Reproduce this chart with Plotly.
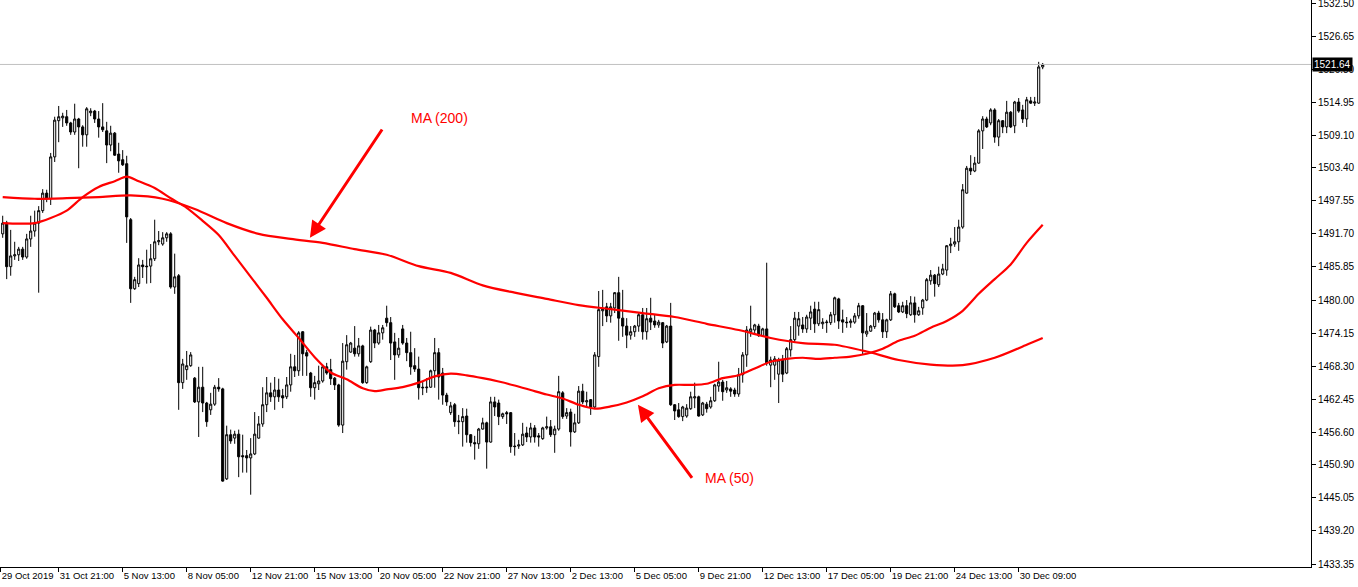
import plotly.graph_objects as go

# ---------------- data (XAUUSD H4) ----------------
opens = [1491.7,1493.6,1485.9,1487.8,1488.0,1489.0,1487.6,1490.8,1492.2,1493.6,
 1495.8,1498.9,1497.9,1505.3,1511.7,1512.2,1512.4,1511.3,1509.7,1512.0,
 1510.6,1509.2,1513.1,1513.4,1512.0,1510.6,1509.9,1507.4,1509.5,1505.8,
 1504.8,1504.1,1494.2,1482.0,1482.9,1486.2,1486.0,1486.0,1487.3,1490.3,
 1489.9,1491.0,1491.7,1482.3,1484.3,1465.4,1467.7,1468.4,1466.2,1462.0,
 1464.6,1461.8,1460.6,1461.6,1464.6,1464.3,1448.4,1456.2,1455.6,1456.3,
 1452.5,1452.5,1452.1,1452.8,1455.6,1458.1,1461.5,1463.6,1462.9,1464.1,
 1463.1,1462.9,1465.0,1468.2,1467.5,1474.4,1470.7,1467.1,1464.5,1465.2,
 1465.7,1468.2,1467.7,1466.2,1465.0,1457.9,1469.1,1470.8,1471.5,1470.5,
 1471.9,1465.4,1469.1,1474.7,1472.4,1474.2,1476.8,1476.0,1472.6,1470.3,
 1474.9,1472.4,1470.7,1468.4,1467.8,1464.6,1464.5,1464.6,1467.5,1470.7,
 1467.1,1463.2,1460.1,1461.5,1458.5,1458.5,1459.5,1456.2,1454.8,1454.6,
 1457.2,1458.3,1454.9,1462.0,1461.8,1459.4,1460.1,1460.1,1454.2,1454.2,
 1454.4,1456.5,1455.8,1457.4,1456.0,1455.5,1457.4,1457.6,1456.2,1457.2,
 1463.6,1459.5,1460.2,1456.7,1458.3,1463.9,1462.0,1462.4,1461.1,1470.0,
 1478.1,1478.8,1477.2,1478.6,1481.3,1476.8,1475.4,1473.8,1474.4,1475.4,
 1477.4,1474.4,1476.8,1476.3,1475.6,1476.0,1472.6,1475.4,1461.5,1460.6,
 1459.4,1459.5,1460.8,1462.7,1462.9,1459.7,1461.6,1461.1,1462.2,1464.8,
 1465.5,1464.1,1464.3,1464.1,1463.4,1466.8,1470.3,1474.4,1474.7,1475.4,
 1473.7,1474.9,1468.5,1468.5,1466.9,1469.4,1467.1,1471.2,1473.0,1475.4,
 1475.6,1474.9,1476.8,1478.4,1475.8,1475.8,1476.0,1476.0,1477.4,1480.2,
 1476.5,1476.1,1476.0,1476.1,1477.2,1479.0,1474.0,1474.5,1475.3,1477.7,
 1476.5,1474.4,1476.5,1481.1,1479.0,1477.9,1479.0,1477.4,1479.5,1477.4,
 1478.6,1480.0,1483.4,1484.4,1482.7,1484.6,1485.3,1489.6,1489.9,1490.3,
 1492.9,1498.9,1503.3,1502.8,1504.2,1509.9,1512.0,1511.3,1513.6,1508.8,
 1511.7,1510.6,1513.2,1510.8,1515.0,1513.6,1512.0,1515.2,1514.8,1514.8,
 1521.2]

highs = [1494.9,1494.0,1492.4,1490.3,1489.4,1489.4,1491.7,1494.9,1495.8,1496.6,
 1499.6,1499.5,1506.0,1512.4,1514.3,1513.1,1513.6,1511.5,1514.7,1512.2,
 1510.9,1514.1,1513.9,1513.6,1513.4,1514.8,1511.5,1510.8,1509.7,1507.8,
 1506.5,1505.5,1494.5,1484.1,1487.4,1487.1,1488.9,1489.9,1494.2,1492.2,
 1492.0,1492.0,1492.0,1488.2,1484.6,1469.6,1471.0,1470.8,1466.4,1468.2,
 1468.2,1462.0,1463.6,1465.0,1466.2,1464.5,1457.8,1457.1,1456.9,1457.1,
 1456.2,1453.5,1455.6,1460.2,1459.5,1464.6,1466.4,1465.4,1466.4,1466.1,
 1464.3,1466.4,1470.5,1470.3,1474.5,1474.5,1471.2,1467.3,1466.6,1468.4,
 1468.5,1468.9,1469.6,1466.4,1465.2,1472.4,1473.8,1472.6,1475.4,1473.3,
 1472.1,1468.4,1475.3,1474.9,1475.6,1475.6,1479.0,1477.0,1474.2,1473.3,
 1475.6,1473.3,1474.4,1471.5,1470.0,1465.5,1466.2,1467.7,1473.3,1471.5,
 1468.0,1463.6,1462.0,1461.8,1459.7,1460.9,1460.8,1456.3,1456.0,1457.4,
 1459.2,1458.5,1462.9,1462.9,1462.4,1460.1,1460.4,1460.2,1456.5,1455.3,
 1458.3,1457.6,1458.3,1457.9,1456.5,1457.6,1459.4,1458.8,1457.8,1466.6,
 1463.9,1460.9,1460.8,1459.9,1464.8,1465.2,1463.8,1462.5,1470.8,1481.6,
 1481.8,1479.5,1479.5,1481.4,1484.1,1481.8,1476.8,1475.4,1475.6,1477.7,
 1478.6,1478.6,1480.4,1477.4,1476.5,1476.1,1475.6,1479.5,1461.6,1461.8,
 1461.3,1461.6,1463.8,1465.4,1463.1,1462.0,1462.0,1462.9,1465.2,1469.1,
 1465.9,1465.7,1464.6,1464.5,1468.0,1470.8,1475.4,1479.0,1475.8,1475.8,
 1475.1,1486.6,1470.0,1470.1,1469.8,1470.3,1471.7,1475.4,1477.9,1477.9,
 1477.0,1477.4,1479.0,1479.7,1479.7,1476.8,1476.5,1477.9,1480.6,1480.4,
 1478.3,1477.0,1476.7,1477.7,1479.5,1479.1,1477.7,1475.6,1477.9,1478.1,
 1477.7,1476.7,1481.6,1481.3,1479.5,1479.7,1480.0,1480.7,1480.6,1478.8,
 1480.2,1483.9,1485.3,1484.6,1485.9,1486.4,1489.7,1491.0,1492.9,1494.2,
 1500.5,1503.7,1505.6,1505.3,1510.2,1512.5,1512.4,1513.9,1513.9,1512.0,
 1511.8,1515.2,1513.4,1515.2,1515.7,1514.5,1515.9,1515.9,1515.9,1522.1,
 1521.9]

lows = [1491.0,1483.7,1484.3,1487.1,1486.9,1487.1,1487.3,1489.4,1491.2,1481.3,
 1495.4,1497.3,1496.8,1504.4,1507.9,1510.6,1510.8,1509.2,1509.2,1503.3,
 1507.1,1507.1,1512.5,1511.3,1508.7,1509.7,1504.2,1506.3,1505.5,1502.5,
 1503.7,1490.1,1479.5,1481.8,1482.3,1483.9,1482.9,1483.0,1486.9,1489.7,
 1489.6,1490.3,1482.0,1481.1,1460.6,1464.3,1465.9,1468.2,1461.8,1455.8,
 1460.2,1457.6,1459.7,1461.3,1463.8,1447.9,1448.2,1454.6,1454.6,1448.7,
 1449.5,1449.5,1445.6,1452.6,1455.5,1457.6,1460.2,1462.0,1460.6,1462.0,
 1460.9,1462.5,1463.8,1466.4,1466.6,1466.6,1466.6,1462.9,1462.4,1464.1,
 1465.4,1466.8,1465.0,1464.1,1457.6,1456.5,1467.7,1470.7,1470.0,1470.0,
 1465.2,1465.2,1468.9,1471.5,1472.1,1473.0,1475.3,1469.4,1465.9,1469.8,
 1472.1,1469.2,1466.8,1467.3,1462.4,1463.2,1463.6,1464.5,1464.5,1462.4,
 1461.5,1461.3,1459.7,1457.6,1456.3,1454.1,1454.8,1454.1,1451.8,1453.7,
 1457.1,1450.2,1454.8,1459.5,1457.9,1459.0,1458.1,1453.0,1452.5,1453.7,
 1454.2,1454.9,1454.8,1454.8,1454.1,1455.3,1457.1,1455.8,1453.0,1456.9,
 1459.0,1459.0,1454.1,1456.5,1458.1,1461.6,1461.1,1459.7,1460.9,1468.2,
 1475.4,1476.1,1476.0,1477.7,1472.8,1473.5,1471.5,1473.0,1473.5,1474.4,
 1473.0,1473.0,1474.7,1475.1,1475.1,1471.5,1472.4,1461.3,1458.8,1459.2,
 1458.6,1459.2,1460.6,1460.9,1459.4,1459.5,1460.1,1460.8,1462.0,1463.8,
 1462.2,1463.6,1462.9,1462.9,1462.9,1465.4,1468.2,1473.5,1474.0,1473.5,
 1473.5,1468.4,1464.6,1465.9,1461.8,1465.5,1466.9,1470.0,1472.4,1473.7,
 1474.2,1474.2,1474.7,1474.2,1475.4,1474.9,1474.2,1475.6,1476.0,1474.9,
 1474.2,1475.1,1475.1,1475.8,1476.7,1470.3,1473.5,1474.4,1474.9,1476.0,
 1473.3,1473.3,1476.3,1478.6,1477.7,1477.7,1476.8,1477.2,1476.0,1477.2,
 1477.4,1479.8,1482.7,1480.6,1482.3,1484.4,1484.3,1488.3,1489.4,1488.7,
 1492.6,1498.8,1502.1,1502.6,1504.1,1506.7,1510.4,1510.9,1507.8,1507.2,
 1509.5,1509.5,1510.4,1509.5,1513.1,1511.3,1510.6,1514.7,1514.3,1514.7,
 1520.8]

closes = [1493.6,1485.9,1487.8,1488.0,1489.0,1487.6,1490.8,1492.2,1493.6,1495.8,
 1498.9,1497.9,1505.3,1511.8,1512.4,1512.5,1511.3,1509.7,1512.0,1510.6,
 1509.2,1513.8,1513.4,1512.0,1510.6,1510.1,1507.4,1509.5,1505.6,1504.6,
 1503.9,1494.7,1482.0,1483.6,1486.2,1485.9,1485.9,1487.3,1490.3,1490.5,
 1491.0,1491.7,1482.3,1484.1,1465.4,1468.7,1468.4,1470.3,1462.0,1464.6,
 1461.8,1458.5,1461.6,1464.6,1464.3,1448.0,1456.2,1455.1,1456.3,1452.3,
 1452.3,1452.1,1452.8,1456.3,1458.1,1461.5,1463.6,1462.9,1464.1,1462.9,
 1462.7,1465.0,1468.2,1467.5,1474.2,1470.5,1470.1,1464.5,1465.4,1465.7,
 1468.2,1467.1,1466.1,1465.0,1457.9,1469.2,1472.1,1472.4,1470.5,1471.9,
 1465.4,1468.2,1474.7,1472.4,1474.2,1475.1,1476.0,1472.4,1470.3,1471.5,
 1472.4,1470.7,1468.2,1467.8,1464.5,1464.5,1464.6,1467.5,1470.7,1466.4,
 1463.2,1462.0,1461.3,1458.5,1458.6,1459.4,1456.2,1454.8,1454.6,1457.2,
 1458.3,1454.9,1462.0,1461.1,1459.4,1459.9,1459.9,1454.1,1454.1,1454.4,
 1456.3,1455.8,1457.4,1455.8,1455.8,1457.4,1457.6,1456.2,1457.2,1463.8,
 1459.4,1460.1,1456.7,1458.3,1463.9,1462.0,1462.2,1461.1,1470.3,1478.3,
 1478.4,1477.2,1478.8,1481.3,1476.8,1475.4,1473.8,1474.4,1475.4,1477.4,
 1474.4,1476.7,1476.1,1475.6,1476.1,1472.4,1475.4,1461.5,1460.4,1459.4,
 1461.1,1460.9,1462.9,1462.9,1459.5,1461.8,1460.8,1462.2,1465.0,1465.5,
 1463.8,1464.5,1463.9,1463.4,1466.8,1470.3,1474.7,1474.9,1475.6,1473.7,
 1474.9,1468.9,1469.4,1469.6,1469.4,1466.9,1471.4,1473.0,1476.8,1476.7,
 1474.9,1477.0,1477.9,1475.8,1478.3,1476.1,1476.1,1477.4,1480.4,1476.3,
 1476.1,1476.0,1476.3,1477.2,1479.0,1474.2,1474.5,1475.4,1477.7,1476.5,
 1474.4,1476.5,1481.1,1478.8,1477.9,1479.0,1477.6,1479.5,1477.4,1478.1,
 1480.0,1483.6,1484.4,1482.9,1484.6,1485.5,1489.6,1489.9,1490.3,1492.9,
 1499.5,1503.3,1502.8,1504.2,1509.9,1512.0,1510.6,1513.6,1508.8,1511.7,
 1510.6,1513.2,1510.6,1515.0,1513.4,1512.0,1515.4,1514.8,1515.0,1521.2,
 1521.64]

# moving averages sampled at candle positions
ma200_at = [0,8,16,24,32,40,48,56,64,72,80,88,96,104,112,120,128,136,144,152,
            160,168,176,184,192,200,208,216,224,232,240,248,256,260]
ma200 = [1498.2,1497.9,1498.0,1498.2,1498.5,1497.9,1496.1,1493.6,1491.7,1490.8,
         1490.1,1489.0,1488.0,1486.0,1484.8,1482.6,1481.3,1480.2,1479.1,1478.4,
         1477.7,1477.0,1475.8,1474.7,1473.3,1472.4,1472.1,1470.9,1469.4,1468.6,
         1468.5,1469.8,1472.1,1473.3]

ma50_at = [0,4,8,12,16,20,24,28,31,34,38,42,46,50,54,58,62,66,70,74,78,82,86,90,93,
           96,100,104,108,112,116,120,124,128,132,136,140,144,148,152,156,160,164,
           168,172,176,180,184,188,192,196,200,204,208,212,216,220,224,228,232,236,
           240,244,248,252,256,260]
ma50 = [1493.6,1493.5,1493.6,1494.5,1495.8,1498.2,1500.0,1501.0,1501.8,1501.0,
        1499.8,1498.0,1496.3,1494.0,1491.5,1487.8,1484.1,1480.4,1476.6,1473.3,
        1469.9,1467.2,1466.0,1464.4,1463.9,1464.2,1464.6,1465.4,1466.5,1467.0,
        1466.7,1466.2,1465.6,1464.9,1464.1,1463.3,1462.6,1461.5,1460.8,1461.2,
        1461.9,1463.0,1464.4,1465.0,1465.0,1465.2,1466.2,1466.7,1467.9,1469.1,
        1469.6,1469.8,1469.6,1469.8,1470.0,1470.5,1471.4,1472.8,1473.7,1475.1,
        1476.3,1478.1,1481.1,1483.7,1486.3,1490.1,1493.3]

# x-axis labels (every 16 H4 bars)
x_label_at = [-0.5,14,30,46,62,78,94,110,126,142,158,174,190,206,222,238,254]
x_labels = ["29 Oct 2019","31 Oct 21:00","5 Nov 13:00","8 Nov 05:00","12 Nov 21:00",
            "15 Nov 13:00","20 Nov 05:00","22 Nov 21:00","27 Nov 13:00","2 Dec 13:00",
            "5 Dec 05:00","9 Dec 21:00","12 Dec 13:00","17 Dec 05:00","19 Dec 21:00",
            "24 Dec 13:00","30 Dec 09:00"]
y_labels = ["1433.35","1439.20","1445.05","1450.90","1456.60","1462.45","1468.30",
            "1474.15","1480.00","1485.85","1491.70","1497.55","1503.40","1509.10",
            "1514.95","1520.80","1526.65","1532.50"]

# annotation anchors (bar index, price)
ma200_note = dict(text="MA (200)", tx=109.3, ty=1512.2, hx=76.8, hy=1491.0, ax=95.1, ay=1510.4)
ma50_note = dict(text="MA (50)", tx=181.8, ty=1448.6, hx=158.8, hy=1461.5, ax=172.6, ay=1448.3)

# ---------------- figure ----------------
idx = list(range(len(closes)))
FONT = "Liberation Sans"

fig = go.Figure()
fig.add_trace(go.Candlestick(
    x=idx, open=opens, high=highs, low=lows, close=closes,
    increasing=dict(line=dict(color="black", width=1), fillcolor="white"),
    decreasing=dict(line=dict(color="black", width=1), fillcolor="black"),
    whiskerwidth=0, hoverinfo="skip", showlegend=False))
fig.add_trace(go.Scatter(x=ma200_at, y=ma200, mode="lines",
                         line=dict(color="#FF0000", width=2.2, shape="spline", smoothing=0.8),
                         hoverinfo="skip", showlegend=False))
fig.add_trace(go.Scatter(x=ma50_at, y=ma50, mode="lines",
                         line=dict(color="#FF0000", width=2.2, shape="spline", smoothing=0.8),
                         hoverinfo="skip", showlegend=False))

# current price line
last = closes[-1]
fig.add_shape(type="line", xref="paper", x0=0, x1=1, y0=last, y1=last,
              line=dict(color="#C0C0C0", width=1))
fig.add_annotation(xref="paper", x=1, y=last, xanchor="left", yanchor="middle",
                   text=f"{last:.2f}", showarrow=False, xshift=1,
                   bgcolor="black", font=dict(color="white", size=10, family=FONT),
                   borderpad=1)

for n in (ma200_note, ma50_note):
    fig.add_annotation(x=n["hx"], y=n["hy"], ax=n["ax"], ay=n["ay"], axref="x", ayref="y",
                       text="", showarrow=True, arrowhead=2, arrowsize=1.1,
                       arrowwidth=3, arrowcolor="#FF0000")
    fig.add_annotation(x=n["tx"], y=n["ty"], text=n["text"], showarrow=False,
                       font=dict(color="#FF0000", size=14, family=FONT))

fig.update_layout(
    width=1358, height=587,
    margin=dict(l=0, r=47, t=0, b=20, autoexpand=False),
    paper_bgcolor="white", plot_bgcolor="white",
    boxgap=0.25,
    font=dict(family=FONT, size=10, color="black"),
    xaxis=dict(range=[-0.675, 327.075], rangeslider=dict(visible=False),
               tickmode="array", tickvals=x_label_at, ticktext=x_labels,
               ticks="outside", ticklen=4, tickcolor="black", tickangle=0,
               tickfont=dict(size=9.5, family=FONT),
               ticklabelposition="outside right", automargin=False,
               ticklabeloverflow="allow",
               showline=True, linecolor="black", linewidth=1,
               showgrid=False, zeroline=False, fixedrange=True),
    yaxis=dict(range=[1432.82, 1533.03], side="right",
               tickmode="array", tickvals=[float(v) for v in y_labels], ticktext=y_labels,
               ticks="outside", ticklen=4, tickcolor="black", automargin=False,
               ticklabeloverflow="allow",
               tickfont=dict(size=10, family=FONT),
               showline=True, linecolor="black", linewidth=1,
               showgrid=False, zeroline=False, fixedrange=True),
)

fig.write_html("out.html", config={"displayModeBar": False},
               post_script="document.body.style.margin='0px';document.body.style.overflow='hidden';")
